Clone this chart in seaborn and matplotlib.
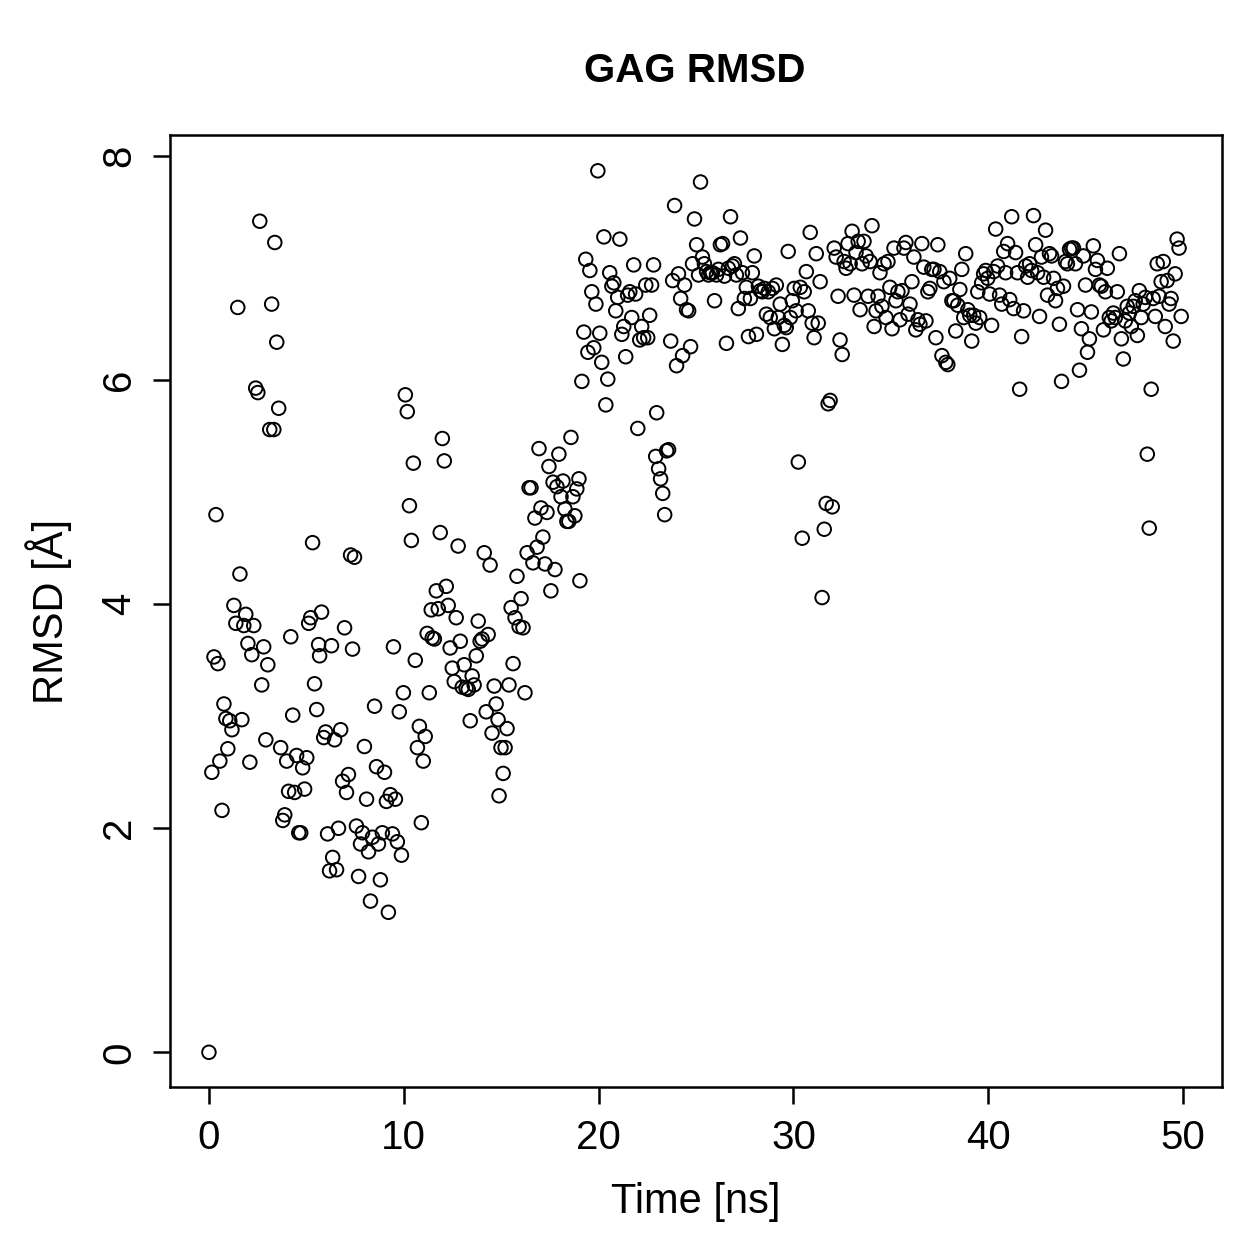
import matplotlib
matplotlib.use("Agg")
import pandas as pd
import seaborn as sns
from matplotlib import pyplot as plt

# values (time in ns, RMSD in Angstrom)
time_ns = [
    0.00, 0.15, 0.26, 0.36, 0.46, 0.56, 0.67, 0.77, 0.87, 0.97, 1.07, 1.18, 1.28, 1.38, 1.48, 1.59, 1.69, 1.79, 1.89, 2.00,
    2.10, 2.20, 2.30, 2.40, 2.51, 2.61, 2.71, 2.81, 2.92, 3.02, 3.12, 3.22, 3.33, 3.38, 3.48, 3.58, 3.68, 3.79, 3.89, 3.99,
    4.09, 4.20, 4.30, 4.40, 4.50, 4.61, 4.71, 4.81, 4.91, 5.02, 5.12, 5.22, 5.32, 5.42, 5.53, 5.63, 5.68, 5.78, 5.89, 5.99,
    6.09, 6.19, 6.29, 6.35, 6.45, 6.55, 6.65, 6.76, 6.86, 6.96, 7.06, 7.16, 7.27, 7.37, 7.47, 7.57, 7.68, 7.78, 7.88, 7.98,
    8.09, 8.19, 8.29, 8.39, 8.50, 8.60, 8.70, 8.80, 8.90, 9.01, 9.11, 9.21, 9.31, 9.42, 9.47, 9.57, 9.67, 9.77, 9.88, 9.98,
    10.08, 10.18, 10.29, 10.39, 10.49, 10.59, 10.70, 10.80, 10.90, 11.00, 11.10, 11.20, 11.31, 11.41, 11.46, 11.57, 11.67, 11.77, 11.87, 11.98,
    12.08, 12.18, 12.28, 12.38, 12.49, 12.59, 12.69, 12.79, 12.90, 13.00, 13.10, 13.20, 13.31, 13.41, 13.51, 13.61, 13.72, 13.82, 13.92, 14.02,
    14.13, 14.23, 14.33, 14.43, 14.53, 14.64, 14.74, 14.84, 14.89, 14.99, 15.10, 15.20, 15.30, 15.40, 15.51, 15.61, 15.71, 15.81, 15.92, 16.02,
    16.12, 16.22, 16.33, 16.43, 16.53, 16.63, 16.73, 16.84, 16.94, 17.04, 17.14, 17.25, 17.35, 17.45, 17.55, 17.66, 17.76, 17.86, 17.96, 18.07,
    18.17, 18.27, 18.37, 18.47, 18.58, 18.68, 18.78, 18.88, 18.99, 19.04, 19.14, 19.24, 19.34, 19.45, 19.55, 19.65, 19.75, 19.86, 19.96, 20.06,
    20.16, 20.27, 20.37, 20.47, 20.57, 20.68, 20.78, 20.88, 20.98, 21.09, 21.19, 21.29, 21.39, 21.49, 21.60, 21.70, 21.80, 21.90, 22.01, 22.11,
    22.21, 22.31, 22.42, 22.52, 22.62, 22.72, 22.82, 22.93, 22.98, 23.08, 23.18, 23.29, 23.39, 23.49, 23.59, 23.70, 23.80, 23.90, 24.00, 24.10,
    24.21, 24.31, 24.41, 24.51, 24.62, 24.72, 24.82, 24.92, 25.03, 25.13, 25.23, 25.33, 25.43, 25.54, 25.64, 25.74, 25.84, 25.95, 26.05, 26.15,
    26.25, 26.36, 26.46, 26.56, 26.66, 26.77, 26.87, 26.97, 27.07, 27.17, 27.28, 27.38, 27.48, 27.58, 27.69, 27.79, 27.89, 27.99, 28.10, 28.20,
    28.30, 28.40, 28.51, 28.61, 28.71, 28.81, 28.92, 29.02, 29.12, 29.22, 29.32, 29.43, 29.53, 29.63, 29.73, 29.84, 29.94, 30.04, 30.14, 30.25,
    30.35, 30.45, 30.55, 30.66, 30.76, 30.86, 30.96, 31.06, 31.17, 31.27, 31.37, 31.47, 31.58, 31.68, 31.78, 31.88, 31.99, 32.09, 32.19, 32.29,
    32.39, 32.50, 32.60, 32.70, 32.80, 32.91, 33.01, 33.11, 33.21, 33.32, 33.42, 33.52, 33.62, 33.73, 33.83, 33.93, 34.03, 34.14, 34.24, 34.34,
    34.44, 34.54, 34.65, 34.75, 34.85, 34.95, 35.06, 35.16, 35.26, 35.36, 35.47, 35.57, 35.67, 35.77, 35.88, 35.98, 36.08, 36.18, 36.28, 36.39,
    36.49, 36.59, 36.69, 36.80, 36.90, 37.00, 37.10, 37.21, 37.31, 37.41, 37.51, 37.62, 37.72, 37.82, 37.92, 38.02, 38.13, 38.23, 38.33, 38.43,
    38.54, 38.64, 38.74, 38.84, 38.95, 39.05, 39.15, 39.25, 39.36, 39.46, 39.56, 39.66, 39.76, 39.87, 39.97, 40.07, 40.17, 40.28, 40.38, 40.48,
    40.58, 40.69, 40.79, 40.89, 40.99, 41.10, 41.20, 41.30, 41.40, 41.50, 41.61, 41.71, 41.81, 41.92, 42.02, 42.12, 42.22, 42.32, 42.43, 42.53,
    42.63, 42.73, 42.84, 42.94, 43.04, 43.14, 43.25, 43.35, 43.45, 43.55, 43.65, 43.76, 43.86, 43.96, 44.06, 44.17, 44.27, 44.37, 44.47, 44.58,
    44.68, 44.78, 44.88, 44.99, 45.09, 45.19, 45.29, 45.39, 45.50, 45.60, 45.70, 45.80, 45.91, 46.01, 46.11, 46.21, 46.31, 46.42, 46.52, 46.62,
    46.73, 46.83, 46.93, 47.03, 47.13, 47.24, 47.34, 47.44, 47.54, 47.65, 47.75, 47.85, 47.95, 48.06, 48.16, 48.26, 48.36, 48.46, 48.57, 48.67,
    48.77, 48.87, 48.98, 49.08, 49.18, 49.28, 49.38, 49.49, 49.59, 49.69, 49.79, 49.90,
]

rmsd_A = [
    0.00, 2.50, 3.53, 4.80, 3.47, 2.60, 2.16, 3.11, 2.98, 2.71, 2.96, 2.88, 3.99, 3.83, 6.65, 4.27, 2.97, 3.81, 3.91, 3.65,
    2.59, 3.55, 3.81, 5.93, 5.89, 7.42, 3.28, 3.62, 2.79, 3.46, 5.56, 6.68, 5.56, 7.23, 6.34, 5.75, 2.72, 2.07, 2.12, 2.60,
    2.33, 3.71, 3.01, 2.32, 2.65, 1.96, 1.96, 2.54, 2.35, 2.63, 3.83, 3.88, 4.55, 3.29, 3.06, 3.64, 3.54, 3.93, 2.81, 2.86,
    1.95, 1.62, 3.63, 1.74, 2.79, 1.63, 2.00, 2.88, 2.42, 3.79, 2.32, 2.48, 4.44, 3.60, 4.42, 2.02, 1.57, 1.86, 1.96, 2.73,
    2.26, 1.79, 1.35, 1.92, 3.09, 2.55, 1.86, 1.54, 1.96, 2.50, 2.24, 1.25, 2.30, 1.95, 3.62, 2.26, 1.88, 3.04, 1.76, 3.21,
    5.87, 5.72, 4.88, 4.57, 5.26, 3.50, 2.72, 2.91, 2.05, 2.60, 2.82, 3.74, 3.21, 3.95, 3.70, 3.69, 4.12, 3.96, 4.64, 5.48,
    5.28, 4.16, 3.99, 3.61, 3.43, 3.31, 3.88, 4.52, 3.67, 3.26, 3.46, 3.25, 3.24, 2.96, 3.36, 3.28, 3.54, 3.85, 3.67, 3.69,
    4.46, 3.04, 3.73, 4.35, 2.85, 3.27, 3.11, 2.97, 2.29, 2.72, 2.49, 2.72, 2.89, 3.28, 3.97, 3.47, 3.88, 4.25, 3.80, 4.05,
    3.79, 3.21, 4.46, 5.04, 5.04, 4.37, 4.77, 4.51, 5.39, 4.86, 4.60, 4.36, 4.82, 5.23, 4.12, 5.09, 4.31, 5.05, 5.34, 4.96,
    5.10, 4.85, 4.74, 4.74, 5.49, 4.96, 4.79, 5.03, 5.12, 4.21, 5.99, 6.43, 7.08, 6.25, 6.98, 6.79, 6.29, 6.68, 7.87, 6.42,
    6.16, 7.28, 5.78, 6.01, 6.96, 6.84, 6.87, 6.62, 6.74, 7.26, 6.41, 6.48, 6.21, 6.76, 6.79, 6.56, 7.03, 6.77, 5.57, 6.36,
    6.48, 6.38, 6.85, 6.38, 6.58, 6.85, 7.03, 5.32, 5.71, 5.21, 5.12, 4.99, 4.80, 5.37, 5.38, 6.35, 6.89, 7.56, 6.13, 6.95,
    6.73, 6.22, 6.85, 6.63, 6.62, 6.30, 7.04, 7.44, 7.21, 6.94, 7.77, 7.10, 7.04, 6.97, 6.94, 6.96, 6.96, 6.71, 6.94, 6.99,
    7.21, 7.22, 6.93, 6.33, 7.00, 7.46, 7.02, 7.04, 6.94, 6.64, 7.27, 6.96, 6.73, 6.83, 6.39, 6.73, 6.96, 7.11, 6.41, 6.84,
    6.80, 6.79, 6.82, 6.59, 6.79, 6.56, 6.82, 6.46, 6.85, 6.56, 6.68, 6.32, 6.49, 6.47, 7.15, 6.56, 6.71, 6.82, 6.62, 5.27,
    6.83, 4.59, 6.79, 6.97, 6.62, 7.32, 6.51, 6.38, 7.13, 6.51, 6.88, 4.06, 4.67, 4.90, 5.79, 5.82, 4.87, 7.18, 7.10, 6.75,
    6.36, 6.23, 7.06, 7.00, 7.22, 7.04, 7.33, 6.76, 7.14, 7.24, 6.63, 7.04, 7.24, 7.11, 6.75, 7.06, 7.38, 6.48, 6.62, 6.75,
    6.96, 6.66, 7.04, 6.56, 7.06, 6.83, 6.46, 7.18, 6.71, 6.79, 6.54, 6.80, 7.18, 7.23, 6.59, 6.68, 6.88, 7.10, 6.45, 6.54,
    6.50, 7.22, 7.01, 6.53, 6.79, 6.82, 6.99, 6.99, 6.38, 7.21, 6.97, 6.22, 6.88, 6.16, 6.14, 6.91, 6.71, 6.71, 6.44, 6.67,
    6.81, 6.99, 6.56, 7.13, 6.63, 6.58, 6.35, 6.58, 6.51, 6.79, 6.56, 6.87, 6.95, 6.98, 6.91, 6.77, 6.49, 6.97, 7.35, 7.02,
    6.76, 6.68, 7.15, 6.96, 7.22, 6.72, 7.46, 6.64, 7.14, 6.96, 5.92, 6.39, 6.62, 7.02, 6.92, 7.04, 6.98, 7.47, 7.21, 6.96,
    6.57, 7.10, 6.92, 7.34, 6.76, 7.13, 7.11, 6.91, 6.71, 6.82, 6.50, 5.99, 6.84, 7.06, 7.04, 7.17, 7.18, 7.18, 7.04, 6.63,
    6.09, 6.46, 7.11, 6.85, 6.25, 6.37, 6.61, 7.20, 6.99, 7.07, 6.85, 6.84, 6.45, 6.79, 7.00, 6.56, 6.53, 6.60, 6.56, 6.79,
    7.13, 6.37, 6.19, 6.53, 6.66, 6.60, 6.48, 6.66, 6.71, 6.40, 6.80, 6.56, 6.68, 6.74, 5.34, 4.68, 5.92, 6.73, 6.57, 7.04,
    6.75, 6.88, 7.06, 6.48, 6.89, 6.68, 6.73, 6.35, 6.95, 7.26, 7.18, 6.57,
]

x_ticks = [0, 10, 20, 30, 40, 50]
y_ticks = [0, 2, 4, 6, 8]

df = pd.DataFrame({"time": time_ns, "rmsd": rmsd_A})

sns.set_style("white")
plt.rcParams["font.family"] = ["Liberation Sans", "DejaVu Sans"]
plt.rcParams["text.color"] = "black"
plt.rcParams["axes.labelcolor"] = "black"
plt.rcParams["xtick.color"] = "black"
plt.rcParams["ytick.color"] = "black"

fig = plt.figure(figsize=(12.59, 12.59), dpi=100)
ax = fig.add_axes([0.135, 0.1366, 0.8357, 0.7562])

sns.scatterplot(
    data=df,
    x="time",
    y="rmsd",
    marker="o",
    s=95,
    facecolors="none",
    edgecolor="black",
    linewidth=1.4,
    ax=ax,
)

ax.set_xlim(-2, 52)
ax.set_ylim(-0.31, 8.19)
ax.set_xticks(x_ticks)
ax.set_yticks(y_ticks)
ax.set_xticklabels([str(v) for v in x_ticks])
ax.set_yticklabels([str(v) for v in y_ticks], rotation=90, va="center")

for sp in ax.spines.values():
    sp.set_visible(True)
    sp.set_color("black")
    sp.set_linewidth(1.8)

ax.tick_params(axis="both", which="major", direction="out", length=12, width=1.8,
               labelsize=29, pad=11, bottom=True, left=True)

ax.set_xlabel("Time [ns]", fontsize=30, labelpad=18)
ax.set_ylabel("RMSD [Å]", fontsize=30, labelpad=20)
fig.text(0.552, 0.944, "GAG RMSD", ha="center", va="center", fontsize=29, fontweight="bold")

fig.savefig("out.png", dpi=100)
plt.close(fig)
